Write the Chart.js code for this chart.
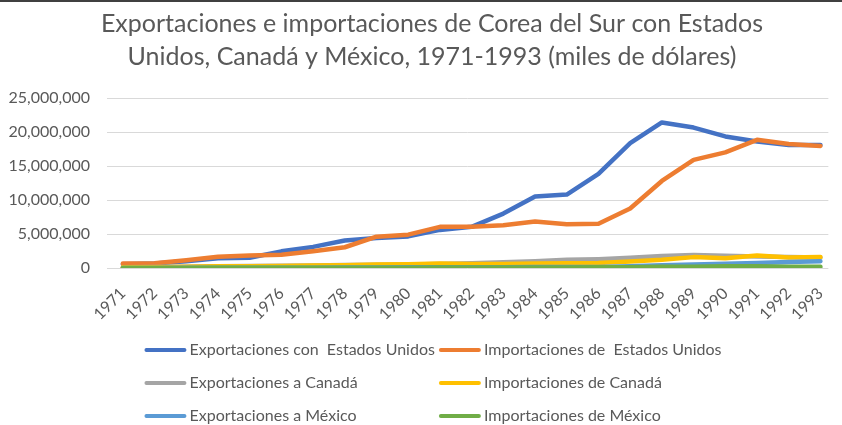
<!DOCTYPE html>
<html><head><meta charset="utf-8">
<script src="https://cdn.jsdelivr.net/npm/chart.js@4/dist/chart.umd.min.js"></script>
<style>
html,body{margin:0;padding:0;background:#fff;overflow:hidden}
#wrap{position:relative;width:842px;height:425px}
#topline{position:absolute;left:0;top:0;width:842px;height:2px;background:#404040}
canvas{display:block}
</style></head><body>
<div id="wrap"><canvas id="c" width="842" height="425"></canvas><div id="topline"></div></div>
<script>
// ---- data (miles de dólares) ----
const years = [1971,1972,1973,1974,1975,1976,1977,1978,1979,1980,1981,1982,1983,1984,1985,1986,1987,1988,1989,1990,1991,1992,1993];
const expUS  = [550000,650000,1000000,1450000,1500000,2450000,3100000,4050000,4400000,4650000,5600000,6050000,8000000,10500000,10800000,13850000,18350000,21400000,20650000,19350000,18600000,18100000,18100000];
const impUS  = [650000,700000,1150000,1650000,1850000,1950000,2450000,3050000,4600000,4900000,6050000,6050000,6300000,6850000,6450000,6500000,8750000,12800000,15900000,17000000,18850000,18250000,17950000];
const expCan = [120000,150000,200000,250000,280000,330000,380000,430000,480000,500000,600000,700000,850000,1000000,1200000,1300000,1500000,1750000,1900000,1800000,1700000,1600000,1550000];
const impCan = [100000,120000,180000,250000,250000,300000,350000,400000,500000,550000,650000,600000,600000,650000,700000,750000,950000,1200000,1600000,1450000,1850000,1550000,1600000];
const expMex = [10000,10000,20000,30000,30000,40000,50000,60000,80000,100000,120000,120000,120000,130000,130000,150000,250000,400000,500000,620000,750000,880000,1000000];
const impMex = [10000,10000,10000,20000,20000,20000,30000,30000,50000,50000,80000,80000,80000,80000,80000,100000,120000,200000,200000,250000,250000,200000,200000];
const yTicks = [0,5000000,10000000,15000000,20000000,25000000];
const seriesNames = ['Exportaciones con  Estados Unidos','Importaciones de  Estados Unidos','Exportaciones a Canadá','Importaciones de Canadá','Exportaciones a México','Importaciones de México'];
const seriesValues = [expUS, impUS, expCan, impCan, expMex, impMex];
const seriesColors = ['#4472C4','#ED7D31','#A5A5A5','#FFC000','#5B9BD5','#70AD47'];
const titleLines = ['Exportaciones e importaciones de Corea del Sur con Estados','Unidos, Canadá y México, 1971-1993 (miles de dólares)'];

const TXT = '#595959';
const FONT = 'Lato';

const titlePlugin = {
  id:'customTitle',
  afterDraw(chart){
    const c = chart.ctx; c.save();
    c.font = '25px ' + FONT; c.fillStyle = TXT;
    c.textAlign = 'center'; c.textBaseline = 'alphabetic';
    titleLines.forEach((t,i)=>c.fillText(t, 432, 32 + i*33));
    c.restore();
  }
};

const legendPlugin = {
  id:'gridLegend',
  afterDraw(chart){
    const c = chart.ctx; c.save();
    c.font = '16px ' + FONT; c.fillStyle = TXT;
    c.textBaseline = 'middle'; c.textAlign = 'left';
    const ds = chart.data.datasets;
    const sw = 42, gap = 3, colGap = 4;
    const col0 = [], col1 = [];
    ds.forEach((d,i)=>{ (i%2===0?col0:col1).push(d); });
    const w0 = Math.max(...col0.map(d=>c.measureText(d.label).width));
    const w1 = Math.max(...col1.map(d=>c.measureText(d.label).width));
    const cw0 = sw + gap + w0 + colGap, cw1 = sw + gap + w1;
    const x0 = 433 - (cw0 + cw1)/2;
    ds.forEach((d,i)=>{
      const col = i%2, row = Math.floor(i/2);
      const x = col===0 ? x0 : x0 + cw0;
      const y = 350 + row*33;
      c.strokeStyle = d.borderColor; c.lineWidth = 4; c.lineCap = 'round';
      c.beginPath(); c.moveTo(x+2, y); c.lineTo(x+sw-2, y); c.stroke();
      c.fillText(d.label, x + sw + gap, y);
    });
    c.restore();
  }
};

new Chart(document.getElementById('c'), {
  type:'line',
  data:{
    datasets: seriesValues.map((vals,i)=>({
      label: seriesNames[i],
      data: years.map((yr,j)=>({x:yr, y:vals[j]})),
      borderColor: seriesColors[i], backgroundColor: seriesColors[i],
      borderWidth: 4.5, pointRadius: 0, tension: 0,
      borderCapStyle:'round', borderJoinStyle:'round',
      order: seriesValues.length - i
    }))
  },
  options:{
    responsive:false, animation:false, devicePixelRatio:1,
    layout:{padding:{top:98,left:0,right:0,bottom:0}},
    plugins:{legend:{display:false}, title:{display:false}, tooltip:{enabled:false}},
    scales:{
      x:{
        type:'linear', min:1970.5, max:1993.25,
        grid:{display:false}, border:{display:false},
        afterBuildTicks: s=>{ s.ticks = years.map(v=>({value:v})); },
        afterFit: s=>{ s.height = 157; },
        ticks:{autoSkip:false, minRotation:45, maxRotation:45, padding:8, color:TXT,
               font:{family:FONT,size:16}, callback:v=>String(v)}
      },
      y:{
        min:0, max:25000000,
        afterBuildTicks: s=>{ s.ticks = yTicks.map(v=>({value:v})); },
        afterFit: s=>{ s.width = 107; },
        grid:{color:'#d9d9d9', lineWidth:1, drawTicks:false}, border:{display:false},
        ticks:{padding:17, color:TXT, font:{family:FONT,size:16},
               callback:v=>Number(v).toLocaleString('en-US')}
      }
    }
  },
  plugins:[titlePlugin, legendPlugin]
});
</script>
</body></html>
